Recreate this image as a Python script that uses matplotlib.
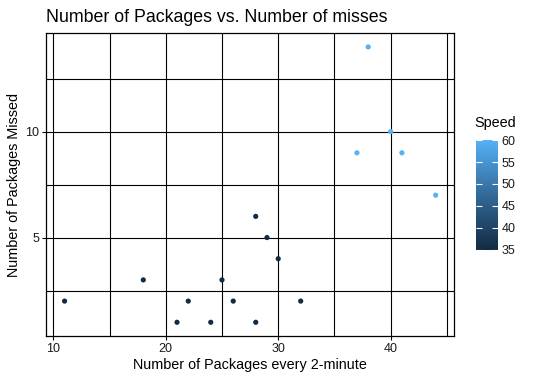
import numpy as np
import matplotlib.pyplot as plt
from matplotlib.colors import LinearSegmentedColormap, Normalize

packages = [11, 18, 21, 22, 24, 25, 26, 28, 28, 29, 30, 32, 37, 38, 40, 41, 44]
missed = [2, 3, 1, 2, 1, 3, 2, 6, 1, 5, 4, 2, 9, 14, 10, 9, 7]
speed = [35, 35, 35, 35, 35, 35, 35, 35, 35, 35, 35, 35, 60, 60, 60, 60, 60]
x_ticks = [10, 20, 30, 40]
y_ticks = [5, 10]
bar_ticks = [35, 40, 45, 50, 55, 60]

plt.rcParams['font.family'] = ['Liberation Sans', 'DejaVu Sans']

cmap = LinearSegmentedColormap.from_list('gg', ['#132B43', '#336A98', '#56B1F7'])
norm = Normalize(vmin=min(speed), vmax=max(speed))

fig = plt.figure(figsize=(5.35, 3.81), dpi=100)
ax = fig.add_axes([0.086, 0.118, 0.763, 0.795])

ax.scatter(packages, missed, c=speed, cmap=cmap, norm=norm, s=14, zorder=3, linewidths=0)

ax.set_xlim(9.35, 45.65)
ax.set_ylim(0.35, 14.65)
ax.set_xticks(x_ticks)
ax.set_xticks([15, 25, 35, 45], minor=True)
ax.set_yticks(y_ticks)
ax.set_yticks([2.5, 7.5, 12.5], minor=True)
ax.grid(True, which='both', color='black', linewidth=0.8, zorder=1)
ax.set_axisbelow(True)
for s in ax.spines.values():
    s.set_color('black')
    s.set_linewidth(0.9)
ax.tick_params(which='major', length=3, width=0.8, color='black', labelsize=9, labelcolor='#1a1a1a', pad=2)
ax.tick_params(which='minor', length=0)

ax.set_xlabel('Number of Packages every 2-minute', fontsize=10.4, labelpad=2)
ax.set_ylabel('Number of Packages Missed', fontsize=10.4, labelpad=3)
ax.set_title('Number of Packages vs. Number of misses', fontsize=12.8, loc='left', pad=8)

# colour bar legend
cax = fig.add_axes([0.890, 0.339, 0.040, 0.299])
grad = np.linspace(35, 60, 200).reshape(-1, 1)
cax.imshow(grad, cmap=cmap, norm=norm, aspect='auto', origin='lower', extent=(0, 1, 35, 60))
cax.set_xlim(0, 1)
cax.set_ylim(34.5, 60.5)
cax.set_xticks([])
cax.set_yticks(bar_ticks)
for s in cax.spines.values():
    s.set_visible(False)
cax.tick_params(axis='y', left=True, right=True, direction='in', color='white', length=4,
                width=0.8, labelleft=False, labelright=True, labelsize=9, labelcolor='#1a1a1a', pad=3)
fig.text(0.886, 0.66, 'Speed', fontsize=10.4, ha='left', va='bottom')

fig.savefig('out.png', dpi=100)
